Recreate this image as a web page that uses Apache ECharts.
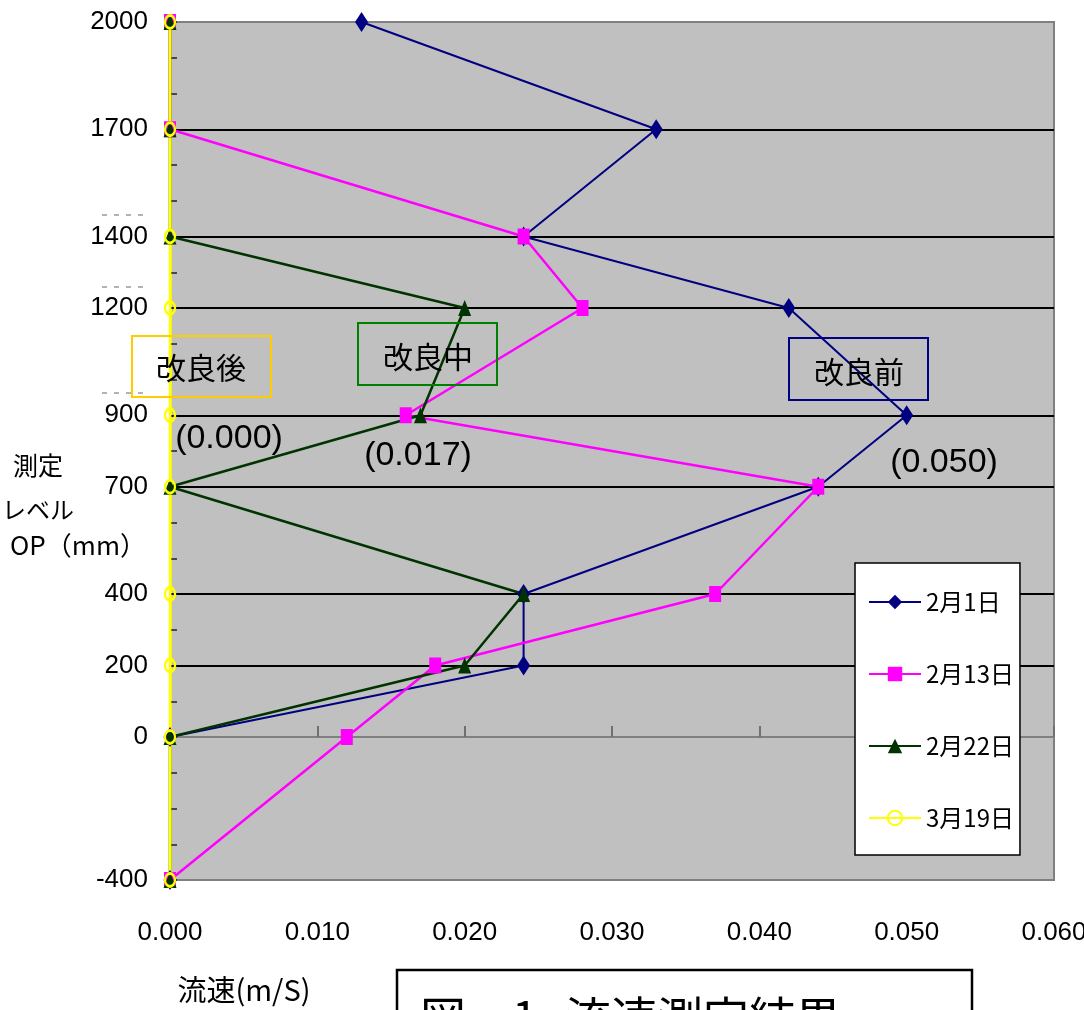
<!DOCTYPE html>
<html><head><meta charset="utf-8">
<script src="https://cdn.jsdelivr.net/npm/echarts@6/dist/echarts.min.js"></script>
<style>html,body{margin:0;padding:0;background:#fff;}#c{width:1084px;height:1010px;}</style>
</head><body><div id="c"></div>
<script>
// measurement levels OP (mm)
const levels = [2000, 1700, 1400, 1200, 900, 700, 400, 200, 0, -400];
const seriesNames = ['2月1日', '2月13日', '2月22日', '3月19日'];
// flow velocity (m/s) at each level
const feb01 = [0.013, 0.033, 0.024, 0.042, 0.050, 0.044, 0.024, 0.024, 0.000, 0.000];
const feb13 = [0.000, 0.000, 0.024, 0.028, 0.016, 0.044, 0.037, 0.018, 0.012, 0.000];
const feb22 = [0.000, 0.000, 0.000, 0.020, 0.017, 0.000, 0.024, 0.020, 0.000, 0.000];
const mar19 = [0.000, 0.000, 0.000, 0.000, 0.000, 0.000, 0.000, 0.000, 0.000, 0.000];
const yTickLabels = [2000, 1700, 1400, 1200, 900, 700, 400, 200, 0, -400];
const gridLevels = [1700, 1400, 1200, 900, 700, 400, 200];
const boxLabels = ['改良後', '改良中', '改良前'];
const valueLabels = ['(0.000)', '(0.017)', '(0.050)'];
const yTitle = ['測定', 'レベル', 'OP（mm）'];
const xTitle = '流速(m/S)';
const figTitleHead = '図－1';
const figTitleBody = '流速測定結果';

const colors = ['#000080', '#FF00FF', '#003300', '#FFFF00'];
const symbols = ['diamond', 'rect', 'triangle', 'circle'];
const symbolSizes = [[13, 20], [12, 16], [13, 16], [10, 13]];
const lineWidths = [2, 2.5, 2.5, 2.5];
const allData = [feb01, feb13, feb22, mar19];

const series = allData.map((vals, i) => ({
  name: seriesNames[i],
  type: 'line',
  xAxisIndex: 0, yAxisIndex: 0,
  data: vals.map((v, k) => [v, levels[k]]),
  symbol: symbols[i],
  symbolSize: symbolSizes[i],
  clip: false,
  animation: false,
  emphasis: {disabled: true},
  itemStyle: i === 3 ? {color: 'rgba(0,0,0,0)', borderColor: colors[i], borderWidth: 2.5} : {color: colors[i]},
  lineStyle: {color: colors[i], width: lineWidths[i]}
}));

const narrow = '"Liberation Sans Narrow", "Arial Narrow", "Liberation Sans", sans-serif';
const cjk = '"Noto Sans CJK JP", sans-serif';

const boxes = [
  {x: 132, y: 336, w: 139, h: 61, c: '#FFCC00'},
  {x: 358, y: 323, w: 139, h: 62, c: '#008000'},
  {x: 789, y: 338, w: 139, h: 62, c: '#000080'}
];
const boxText = [[201, 368], [428, 357], [859, 372]];
const valText = [[229, 439], [418, 456], [944, 463]];

const graphic = [];
boxes.forEach((b, i) => {
  graphic.push({type: 'rect', shape: {x: b.x, y: b.y, width: b.w, height: b.h}, style: {fill: 'none', stroke: b.c, lineWidth: 2}, z: 100});
  graphic.push({type: 'text', x: boxText[i][0], y: boxText[i][1], style: {text: boxLabels[i], fontSize: 30, fontFamily: cjk, fill: '#000', align: 'center', verticalAlign: 'middle'}, z: 100});
  graphic.push({type: 'text', x: valText[i][0], y: valText[i][1], style: {text: valueLabels[i], fontSize: 34, fontFamily: '"Liberation Sans", Arial, sans-serif', fill: '#000', align: 'center', verticalAlign: 'middle'}, z: 100});
});
// y axis title
graphic.push({type: 'text', x: 38, y: 465, style: {text: yTitle[0], fontSize: 25, fontFamily: cjk, fill: '#000', align: 'center', verticalAlign: 'middle'}});
graphic.push({type: 'text', x: 38, y: 510, style: {text: yTitle[1], fontSize: 24, fontFamily: cjk, fill: '#000', align: 'center', verticalAlign: 'middle'}});
graphic.push({type: 'text', x: 78, y: 545, style: {text: yTitle[2], fontSize: 26, fontFamily: cjk, fill: '#000', align: 'center', verticalAlign: 'middle'}});
// x axis title
graphic.push({type: 'text', x: 244, y: 990, style: {text: xTitle, fontSize: 29, fontFamily: cjk, fill: '#000', align: 'center', verticalAlign: 'middle'}});
// figure caption box (cut off by page edge)
graphic.push({type: 'rect', shape: {x: 397, y: 970, width: 575, height: 60}, style: {fill: '#fff', stroke: '#000', lineWidth: 2.5}});
graphic.push({type: 'text', x: 420, y: 995, style: {text: figTitleHead, fontSize: 46, fontFamily: cjk, fill: '#000', align: 'left', verticalAlign: 'top'}});
graphic.push({type: 'text', x: 565, y: 995, style: {text: figTitleBody, fontSize: 46, fontFamily: cjk, fill: '#000', align: 'left', verticalAlign: 'top'}});
// faint clipped label remnants
[215, 287, 393].forEach(y => {
  graphic.push({type: 'line', shape: {x1: 102, y1: y, x2: 146, y2: y}, style: {stroke: '#666', lineWidth: 1, lineDash: [5, 7]}});
});

const option = {
  backgroundColor: '#fff',
  animation: false,
  grid: {left: 170, right: 30, top: 22, bottom: 130, show: true, outerBoundsMode: 'none', containLabel: false,
         backgroundColor: '#C0C0C0', borderColor: '#808080', borderWidth: 2},
  xAxis: [
    {type: 'value', min: 0, max: 0.06, interval: 0.01, position: 'bottom',
     axisLine: {show: false, onZero: false}, axisTick: {show: false}, splitLine: {show: false},
     axisLabel: {margin: 40, fontSize: 26, fontFamily: narrow, color: '#000', formatter: v => v.toFixed(3)}},
    {type: 'value', min: 0, max: 0.06, interval: 0.01, position: 'top',
     axisLine: {show: true, onZero: true, lineStyle: {color: '#808080', width: 2}},
     axisTick: {show: true, inside: false, length: 11, lineStyle: {color: '#707070', width: 2}},
     axisLabel: {show: false}, splitLine: {show: false}}
  ],
  yAxis: [
    {type: 'value', min: -400, max: 2000, interval: 100, position: 'left',
     axisLine: {show: true, onZero: false, lineStyle: {color: '#FFFF00', width: 2.5}},
     axisTick: {show: true, inside: true, length: 7, lineStyle: {color: '#222', width: 1.5}},
     axisLabel: {margin: 22, fontSize: 26, fontFamily: narrow, color: '#000',
                 formatter: v => yTickLabels.includes(v) ? String(v) : ''},
     splitLine: {show: false}},
    {type: 'value', min: -400, max: 2000, position: 'left',
     axisLine: {show: false, onZero: false}, axisLabel: {show: false},
     axisTick: {show: false, customValues: gridLevels},
     splitLine: {show: true, lineStyle: {color: '#000', width: 2}}}
  ],
  legend: {
    orient: 'vertical', left: 855, top: 563, data: seriesNames,
    itemWidth: 52, itemHeight: 18, itemGap: 48, padding: [27, 6, 25, 13],
    backgroundColor: '#fff', borderColor: '#000', borderWidth: 1.5,
    selectedMode: false,
    textStyle: {fontSize: 24, lineHeight: 24, fontFamily: cjk, color: '#000'}
  },
  graphic: graphic,
  series: series
};
const chart = echarts.init(document.getElementById('c'), null, {renderer: 'canvas'});
chart.setOption(option);
</script>
</body></html>
